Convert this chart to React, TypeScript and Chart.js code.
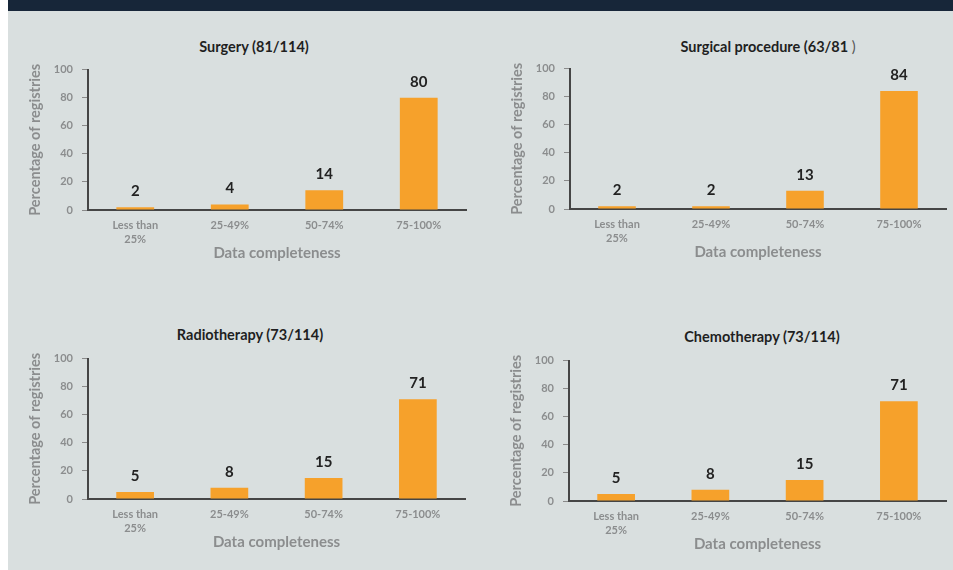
import React, { useEffect, useRef } from "react";
import { Chart, registerables } from "chart.js";
Chart.register(...registerables);

// ---- Data ----
const categories: (string | string[])[] = [["Less than", "25%"], "25-49%", "50-74%", "75-100%"];
const surgeryValues = [2, 4, 14, 80];
const surgicalProcedureValues = [2, 2, 13, 84];
const radiotherapyValues = [5, 8, 15, 71];
const chemotherapyValues = [5, 8, 15, 71];
const yTickMin = 0;
const yTickMax = 100;
const yTickStep = 20;
const yAxisTitle = "Percentage of registries";
const xAxisTitle = "Data completeness";

const FONT = "Lato, 'Open Sans', sans-serif";
const BAR_COLOR = "#F6A12B";
const GRAY_TEXT = "#8b8d8e";

const valueLabelPlugin = {
  id: "valueLabels",
  afterDatasetsDraw(chart: any) {
    const ctx = chart.ctx;
    const meta = chart.getDatasetMeta(0);
    const data = chart.data.datasets[0].data;
    ctx.save();
    ctx.font = `bold 15px ${FONT}`;
    ctx.fillStyle = "#222222";
    ctx.textAlign = "center";
    ctx.textBaseline = "alphabetic";
    meta.data.forEach((el: any, i: number) => {
      ctx.fillText(String(data[i]), el.x, el.y - 11);
    });
    ctx.restore();
  },
};

type PanelProps = {
  values: number[];
  left: number;
  top: number;
  width: number;
  height: number;
  padRight: number;
};

function BarPanel({ values, left, top, width, height, padRight }: PanelProps) {
  const ref = useRef<HTMLCanvasElement | null>(null);
  useEffect(() => {
    if (!ref.current) return;
    const chart = new Chart(ref.current, {
      type: "bar",
      data: {
        labels: categories,
        datasets: [
          {
            data: values,
            backgroundColor: BAR_COLOR,
            borderWidth: 0,
            barPercentage: 0.4,
            categoryPercentage: 1,
          },
        ],
      },
      options: {
        animation: false,
        responsive: false,
        devicePixelRatio: 1,
        layout: { padding: { top: 3, right: padRight, left: 0, bottom: 0 } },
        plugins: {
          legend: { display: false },
          title: { display: false },
          tooltip: { enabled: false },
        },
        scales: {
          x: {
            afterFit: (s: any) => {
              s.height = 55;
            },
            grid: { display: false },
            border: { display: true, color: "#454545", width: 2 },
            ticks: {
              color: GRAY_TEXT,
              font: { family: FONT, size: 11, weight: "bold", lineHeight: 1.3 },
              padding: 0,
              maxRotation: 0,
              autoSkip: false,
            },
            title: {
              display: true,
              text: xAxisTitle,
              color: GRAY_TEXT,
              font: { family: FONT, size: 15, weight: "bold" },
              padding: { top: 2, bottom: 3 },
            },
          },
          y: {
            min: yTickMin,
            max: yTickMax,
            afterFit: (s: any) => {
              s.width = 68;
            },
            grid: {
              display: true,
              drawOnChartArea: false,
              drawTicks: true,
              tickLength: 6,
              color: "#8a8a8a",
              lineWidth: 1,
            },
            border: { display: true, color: "#454545", width: 2 },
            ticks: {
              stepSize: yTickStep,
              color: GRAY_TEXT,
              font: { family: FONT, size: 11, weight: "bold" },
              padding: 9,
            },
            title: {
              display: true,
              text: yAxisTitle,
              color: GRAY_TEXT,
              font: { family: FONT, size: 14.5, weight: "bold" },
              padding: { top: 7, bottom: 4 },
            },
          },
        },
      },
      plugins: [valueLabelPlugin],
    } as any);
    return () => chart.destroy();
  }, [values, padRight]);
  return (
    <canvas
      ref={ref}
      width={width}
      height={height}
      style={{ position: "absolute", left, top, width, height }}
    />
  );
}

function Title({ text, cx, cy, extra }: { text: string; cx: number; cy: number; extra?: string }) {
  return (
    <div
      style={{
        position: "absolute",
        left: cx - 200,
        top: cy - 9,
        width: 400,
        height: 18,
        lineHeight: "18px",
        textAlign: "center",
        fontFamily: FONT,
        fontWeight: 700,
        fontSize: 14.5,
        color: "#1f1f1f",
        whiteSpace: "nowrap",
      }}
    >
      {text}
      {extra ? <span style={{ fontWeight: 400, color: "#555" }}>{extra}</span> : null}
    </div>
  );
}

export default function App() {
  useEffect(() => {
    document.body.style.margin = "0";
  }, []);
  return (
    <div style={{ position: "relative", width: 953, height: 570, overflow: "hidden", background: "#ffffff" }}>
      <div style={{ position: "absolute", left: 8, top: 0, width: 945, height: 11, background: "#172639" }} />
      <div style={{ position: "absolute", left: 8, top: 11, width: 945, height: 559, background: "#d9dfdf" }} />
      <Title text="Surgery (81/114)" cx={254} cy={47} />
      <Title text="Surgical procedure (63/81 " extra=")" cx={768} cy={47} />
      <Title text="Radiotherapy (73/114)" cx={250} cy={335} />
      <Title text="Chemotherapy (73/114)" cx={762} cy={337} />
      <BarPanel values={surgeryValues} left={20} top={54} width={460} height={211} padRight={14} />
      <BarPanel values={surgicalProcedureValues} left={502} top={53} width={450} height={211} padRight={6} />
      <BarPanel values={radiotherapyValues} left={20} top={343} width={460} height={211} padRight={15} />
      <BarPanel values={chemotherapyValues} left={501} top={345} width={451} height={211} padRight={6} />
    </div>
  );
}
